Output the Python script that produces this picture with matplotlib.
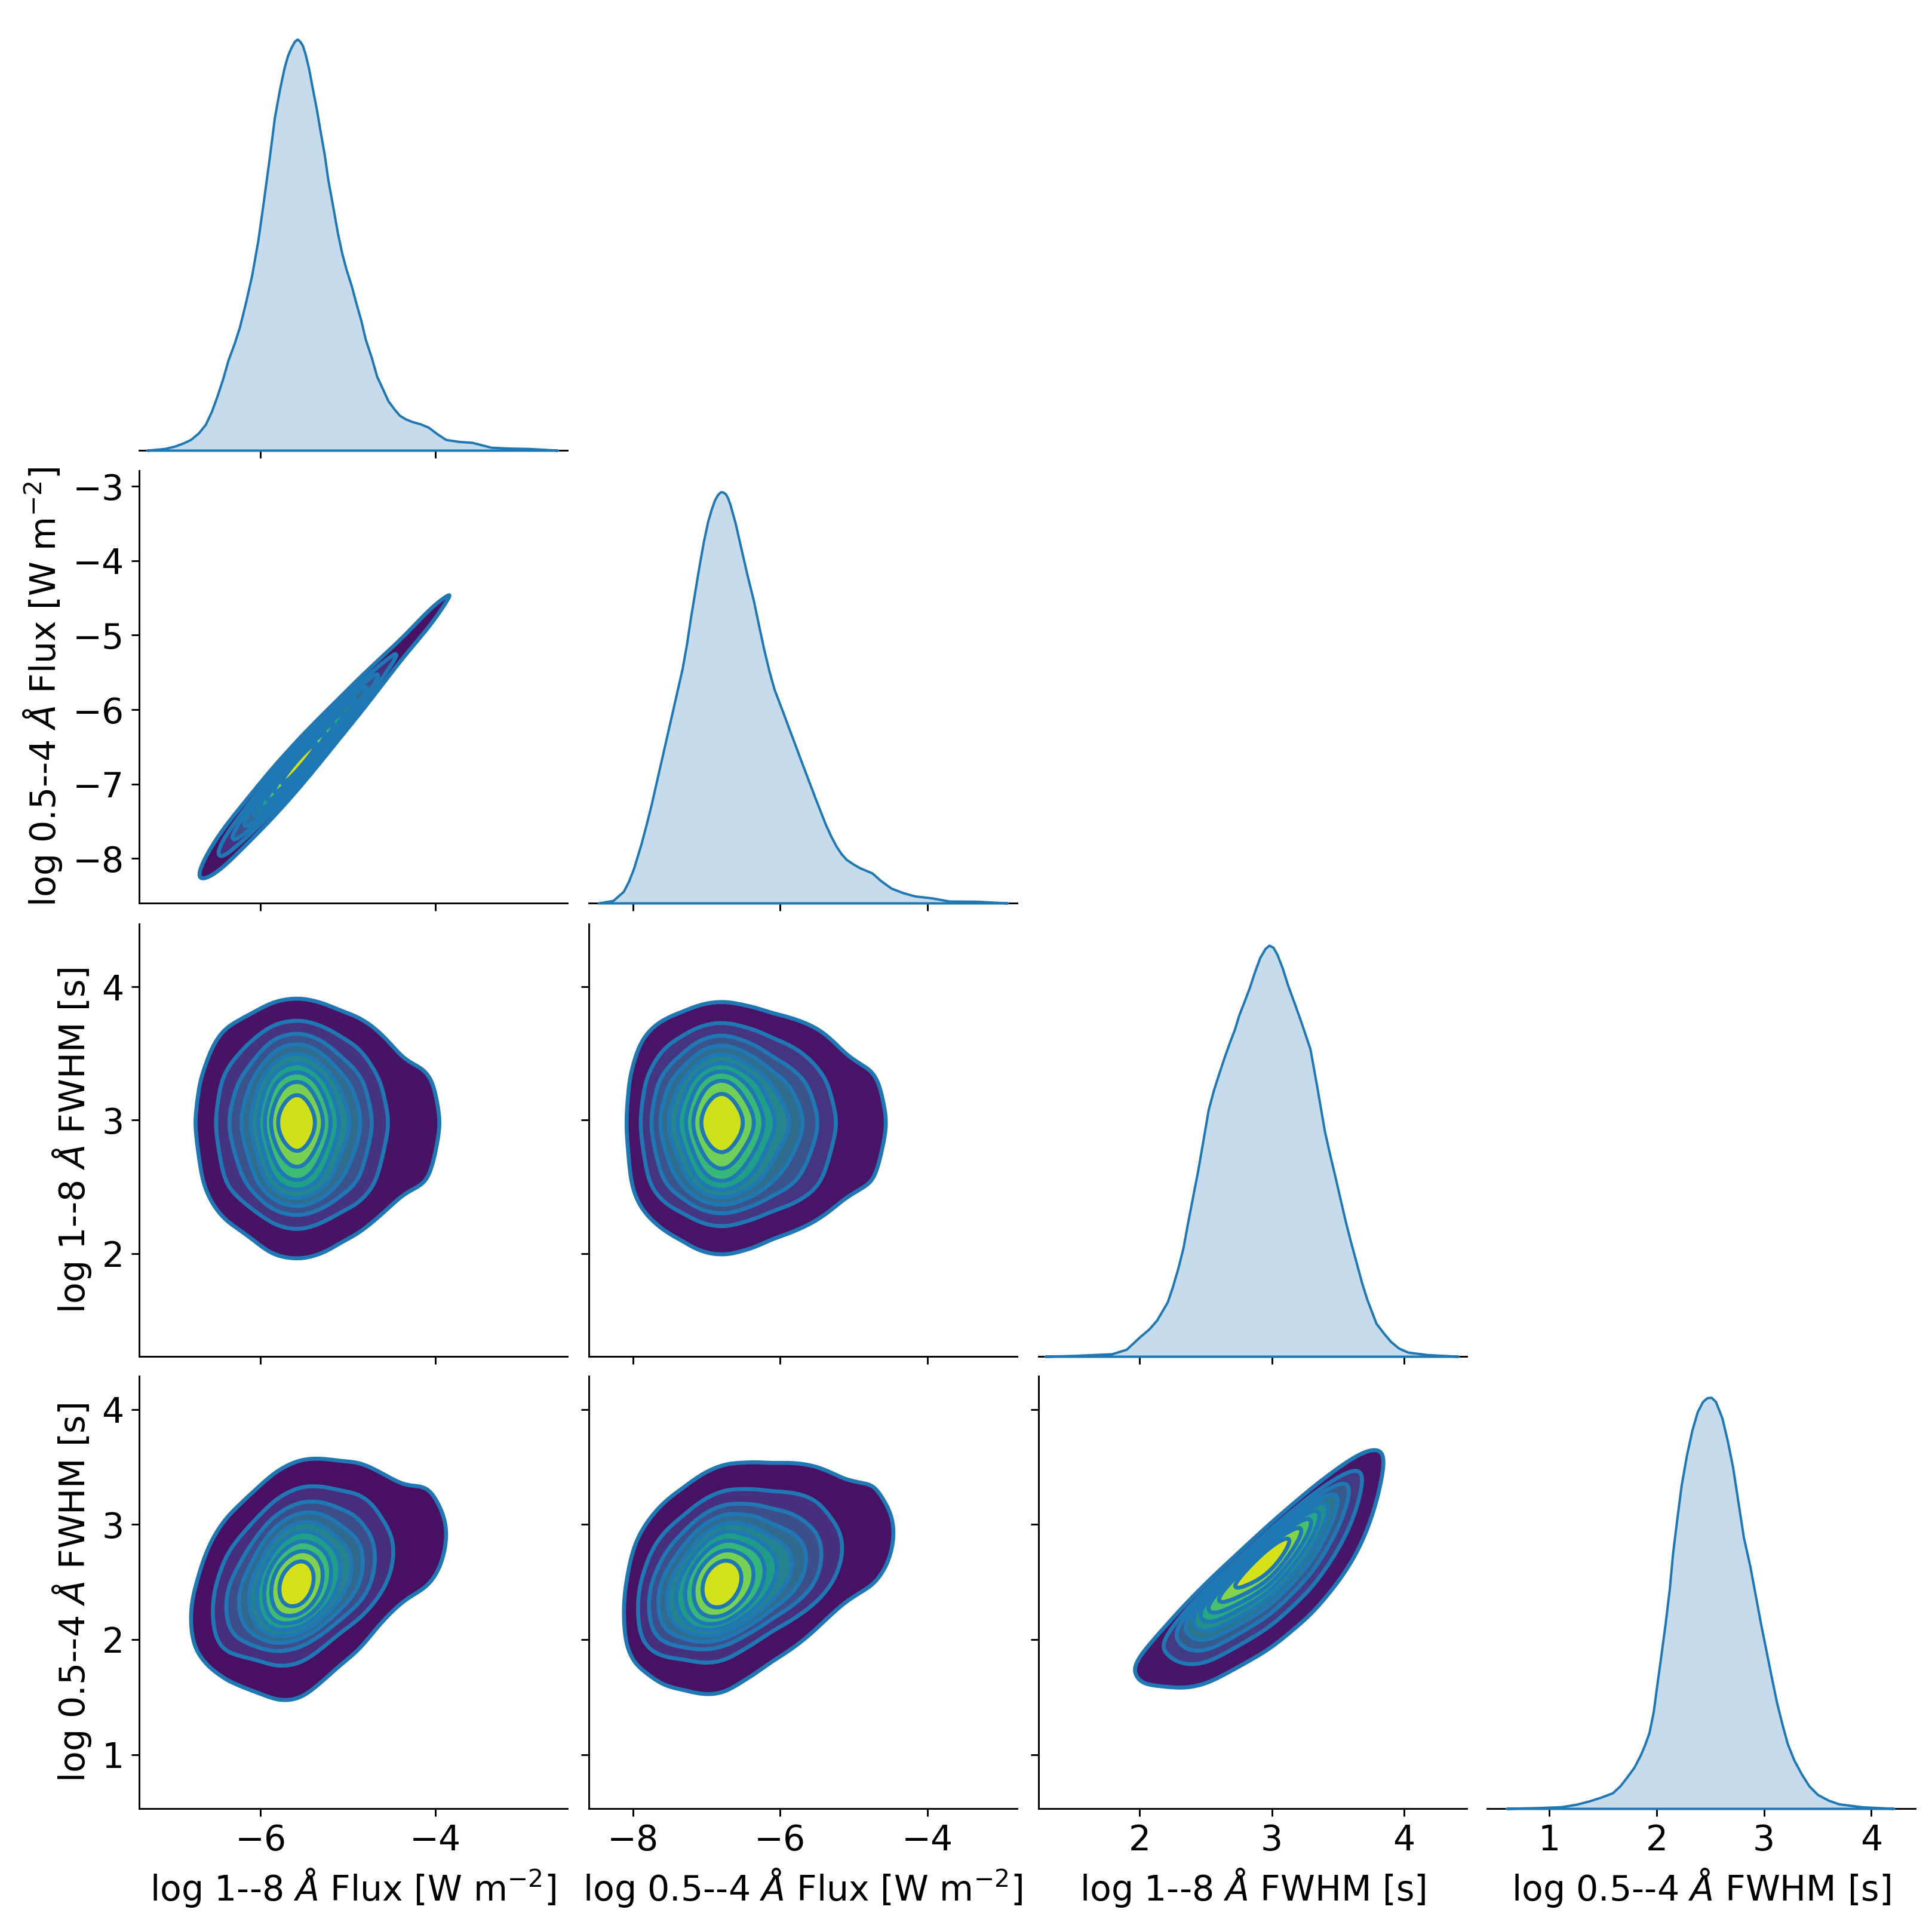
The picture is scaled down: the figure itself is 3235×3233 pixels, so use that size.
import math

import numpy as np
import matplotlib
matplotlib.use("Agg")
import matplotlib.pyplot as plt


# variables of the corner plot
labels = [r"log 1--8 $\AA$ Flux [W m$^{-2}$]",
          r"log 0.5--4 $\AA$ Flux [W m$^{-2}$]",
          r"log 1--8 $\AA$ FWHM [s]",
          r"log 0.5--4 $\AA$ FWHM [s]"]

# diagonal KDE curves (x, relative density)
flux18_x = [-7.30, -7.10, -6.98, -6.88, -6.80, -6.71, -6.63, -6.56, -6.50, -6.43,
            -6.37, -6.30, -6.24, -6.17, -6.10, -6.03, -5.97, -5.90, -5.84, -5.78,
            -5.73, -5.69, -5.65, -5.61, -5.58, -5.55, -5.52, -5.49, -5.45, -5.41,
            -5.36, -5.32, -5.27, -5.23, -5.17, -5.12, -5.07, -5.02, -4.96, -4.91,
            -4.85, -4.80, -4.73, -4.67, -4.60, -4.54, -4.47, -4.41, -4.34, -4.27,
            -4.17, -4.08, -3.98, -3.88, -3.72, -3.58, -3.36, -3.15, -2.92, -2.60]
flux18_d = [0.0, 0.004, 0.01, 0.018, 0.026, 0.042, 0.063, 0.095, 0.13, 0.175,
            0.22, 0.26, 0.30, 0.36, 0.426, 0.51, 0.60, 0.71, 0.81, 0.88,
            0.93, 0.96, 0.98, 0.995, 1.0, 0.995, 0.985, 0.965, 0.93, 0.885,
            0.83, 0.78, 0.72, 0.66, 0.59, 0.53, 0.48, 0.44, 0.40, 0.36,
            0.315, 0.27, 0.225, 0.18, 0.148, 0.12, 0.10, 0.085, 0.076, 0.07,
            0.064, 0.056, 0.04, 0.026, 0.021, 0.019, 0.007, 0.005, 0.004, 0.0]

flux054_x = [-8.47, -8.27, -8.13, -8.06, -7.99, -7.89, -7.82, -7.75, -7.68, -7.61,
             -7.54, -7.47, -7.40, -7.33, -7.27, -7.22, -7.16, -7.10, -7.04, -6.98,
             -6.93, -6.89, -6.85, -6.81, -6.78, -6.74, -6.71, -6.68, -6.61, -6.54,
             -6.45, -6.36, -6.29, -6.22, -6.15, -6.08, -6.01, -5.94, -5.87, -5.80,
             -5.73, -5.66, -5.59, -5.52, -5.45, -5.38, -5.31, -5.24, -5.17, -5.10,
             -5.00, -4.91, -4.83, -4.75, -4.63, -4.49, -4.33, -4.17, -3.93, -3.70,
             -3.33, -2.91]
flux054_d = [0.0, 0.006, 0.028, 0.052, 0.084, 0.143, 0.19, 0.24, 0.295, 0.35,
             0.405, 0.46, 0.515, 0.57, 0.63, 0.69, 0.755, 0.82, 0.88, 0.93,
             0.96, 0.98, 0.993, 1.0, 1.0, 0.995, 0.985, 0.97, 0.925, 0.87,
             0.80, 0.735, 0.675, 0.617, 0.565, 0.52, 0.487, 0.454, 0.42, 0.387,
             0.353, 0.32, 0.287, 0.254, 0.222, 0.19, 0.163, 0.139, 0.12, 0.106,
             0.094, 0.085, 0.079, 0.073, 0.054, 0.036, 0.025, 0.017, 0.012, 0.0045,
             0.004, 0.0]

fwhm18_x = [1.285, 1.51, 1.79, 1.90, 2.00, 2.07, 2.13, 2.21, 2.25, 2.29,
            2.33, 2.36, 2.40, 2.44, 2.48, 2.52, 2.56, 2.60, 2.64, 2.68,
            2.72, 2.75, 2.79, 2.83, 2.87, 2.91, 2.95, 2.98, 3.01, 3.04,
            3.08, 3.12, 3.17, 3.22, 3.29, 3.34, 3.37, 3.40, 3.44, 3.48,
            3.52, 3.56, 3.60, 3.64, 3.68, 3.72, 3.79, 3.85, 3.90, 3.96,
            4.03, 4.18, 4.41]
fwhm18_d = [0.0, 0.002, 0.006, 0.017, 0.047, 0.066, 0.088, 0.132, 0.17, 0.214,
            0.265, 0.318, 0.385, 0.451, 0.525, 0.60, 0.648, 0.688, 0.727, 0.763,
            0.797, 0.829, 0.862, 0.896, 0.935, 0.97, 0.992, 1.0, 0.995, 0.978,
            0.945, 0.904, 0.86, 0.815, 0.748, 0.659, 0.603, 0.547, 0.49, 0.436,
            0.38, 0.325, 0.275, 0.228, 0.18, 0.139, 0.080, 0.055, 0.036, 0.02,
            0.01, 0.004, 0.0]

fwhm054_x = [0.60, 0.90, 1.11, 1.25, 1.37, 1.49, 1.59, 1.66, 1.72, 1.79,
             1.85, 1.89, 1.93, 1.97, 2.00, 2.04, 2.08, 2.12, 2.15, 2.19,
             2.23, 2.28, 2.33, 2.38, 2.43, 2.47, 2.51, 2.55, 2.61, 2.66,
             2.71, 2.76, 2.81, 2.87, 2.92, 2.97, 3.02, 3.07, 3.12, 3.17,
             3.22, 3.28, 3.35, 3.42, 3.50, 3.60, 3.70, 3.91, 4.21]
fwhm054_d = [0.0, 0.002, 0.004, 0.01, 0.018, 0.028, 0.038, 0.055, 0.075, 0.10,
             0.13, 0.155, 0.184, 0.235, 0.294, 0.37, 0.448, 0.535, 0.62, 0.705,
             0.786, 0.86, 0.92, 0.965, 0.99, 0.999, 1.0, 0.99, 0.95, 0.895,
             0.83, 0.745, 0.66, 0.59, 0.52, 0.45, 0.385, 0.32, 0.257, 0.205,
             0.157, 0.118, 0.084, 0.055, 0.034, 0.02, 0.011, 0.004, 0.0]

diag_x = [flux18_x, flux054_x, fwhm18_x, fwhm054_x]
diag_d = [flux18_d, flux054_d, fwhm18_d, fwhm054_d]

# pairwise structure
flux_fit = (0.56, 1.31, 0.13, -0.025)  # 0.5-4 flux = a + b * 1-8 flux, scatter and its trend
shear_30 = (0.25, -5.58)               # tilt of panel (3, 0)
shear_31 = (0.19, -6.78)               # tilt of panel (3, 1)
fwhm_gap = (0.12, 0.37, 0.10, 4.5)     # skewed offset of 0.5-4 FWHM below 1-8 FWHM

# axis ranges and ticks
xlims = [(-7.39, -2.49), (-8.60, -2.78), (1.235, 4.475), (0.42, 4.41)]
ylims = [None, (-8.60, -2.79), (1.23, 4.47), (0.53, 4.29)]
xticks = [[-6, -4], [-8, -6, -4], [2, 3, 4], [1, 2, 3, 4]]
yticks = [None, [-8, -7, -6, -5, -4, -3], [2, 3, 4], [1, 2, 3, 4]]

W, H, DPI = 3235, 3233, 260
col_left = [233, 986, 1739, 2490]
row_top = [30, 788, 1547, 2304]
ax_w, ax_h = 717, 724
C0 = "#1f77b4"

plt.rcParams.update({
    "font.size": 16.2,
    "axes.labelsize": 16.2,
    "xtick.labelsize": 16.2,
    "ytick.labelsize": 16.2,
})


def smooth_marginal(i, bw=0.06):
    lo, hi = diag_x[i][0] - 1, diag_x[i][-1] + 1
    g = np.linspace(lo, hi, 3000)
    f = np.interp(g, diag_x[i], diag_d[i], left=0, right=0)
    step = g[1] - g[0]
    k = np.arange(-4 * bw, 4 * bw + step, step)
    ker = np.exp(-0.5 * (k / bw) ** 2)
    f = np.convolve(f, ker / ker.sum(), mode="same")
    return lambda v: np.interp(v, g, f, left=0, right=0)


marg = [smooth_marginal(i) for i in range(4)]
erf = np.vectorize(math.erf)


def pair_density(r, c, X, Y):
    fx = marg[c](X)
    if (r, c) == (1, 0):
        a, b, s0, s1 = flux_fit
        s = np.clip(s0 + s1 * (X + 5.6), 0.05, None)
        return fx / s * np.exp(-0.5 * ((Y - a - b * X) / s) ** 2)
    if (r, c) == (3, 0):
        b, x0 = shear_30
        return fx * marg[3](Y - b * (X - x0))
    if (r, c) == (3, 1):
        b, x0 = shear_31
        return fx * marg[3](Y - b * (X - x0))
    if (r, c) == (3, 2):
        xi, om0, om1, alpha = fwhm_gap
        om = np.clip(om0 + om1 * (X - 2.9), 0.1, None)
        z = (X - Y - xi) / om
        pdf = 2 / om * np.exp(-0.5 * z ** 2) * 0.5 * (1 + erf(alpha * z / np.sqrt(2)))
        return fx * pdf
    return fx * marg[r](Y)


def iso_levels(z, n=10, thresh=0.05):
    isoprop = np.linspace(thresh, 1, n)
    vals = np.sort(z.ravel())[::-1]
    cum = np.cumsum(vals) / vals.sum()
    idx = np.searchsorted(cum, 1 - isoprop)
    return np.take(vals, idx, mode="clip")


fig = plt.figure(figsize=(W / DPI, H / DPI), dpi=DPI)

for r in range(4):
    for c in range(r + 1):
        rect = [col_left[c] / W, 1 - (row_top[r] + ax_h) / H, ax_w / W, ax_h / H]
        ax = fig.add_axes(rect)
        ax.spines["top"].set_visible(False)
        ax.spines["right"].set_visible(False)
        ax.set_xlim(*xlims[c])
        ax.set_xticks(xticks[c])

        if r == c:
            ax.spines["left"].set_visible(False)
            ax.set_yticks([])
            ax.fill_between(diag_x[c], 0, diag_d[c], facecolor=(0.122, 0.467, 0.706, 0.25),
                            edgecolor=C0, linewidth=1.1, zorder=3, clip_on=False)
            ax.set_ylim(0, 1.052)
        else:
            ax.set_ylim(*ylims[r])
            ax.set_yticks(yticks[r])
            gx = np.linspace(xlims[c][0], xlims[c][1], 240)
            gy = np.linspace(ylims[r][0], ylims[r][1], 240)
            X, Y = np.meshgrid(gx, gy)
            Z = pair_density(r, c, X, Y)
            lv = iso_levels(Z)
            ax.contourf(X, Y, Z, levels=lv, cmap="viridis")
            ax.contour(X, Y, Z, levels=lv, colors=C0, linewidths=1.85)

        if r == 3:
            ax.set_xlabel(labels[c])
        else:
            ax.tick_params(axis="x", labelbottom=False)
        if c == 0 and r > 0:
            ax.set_ylabel(labels[r])
        elif r != c:
            ax.tick_params(axis="y", labelleft=False)

fig.savefig("out.png", dpi=DPI)
